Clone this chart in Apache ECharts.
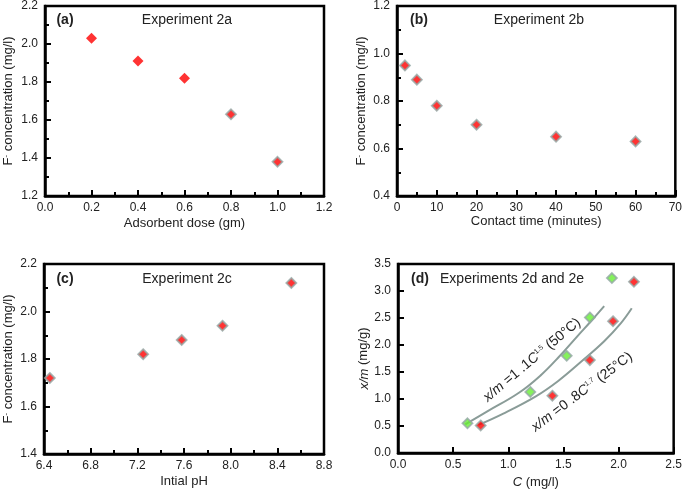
<!DOCTYPE html>
<html>
<head>
<meta charset="utf-8">
<script src="https://cdn.jsdelivr.net/npm/echarts@6/dist/echarts.min.js"></script>
<style>
  html, body { margin: 0; padding: 0; background: #fff; }
  #chart { width: 685px; height: 490px; }
</style>
</head>
<body>
<div id="chart"></div>
<script>
// (a) adsorbent dose
const doseX = [0.2, 0.4, 0.6, 0.8, 1.0];
const doseY = [2.03, 1.91, 1.82, 1.63, 1.38];
// (b) contact time
const timeX = [2, 5, 10, 20, 40, 60];
const timeY = [0.95, 0.89, 0.78, 0.70, 0.65, 0.63];
// (c) initial pH
const phX = [6.45, 7.25, 7.58, 7.93, 8.52];
const phY = [1.72, 1.82, 1.88, 1.94, 2.12];
// (d) isotherms, 50C (green) and 25C (red)
const c50X = [0.63, 1.20, 1.53, 1.74, 1.94];
const c50Y = [0.55, 1.13, 1.80, 2.51, 3.24];
const c25X = [0.75, 1.40, 1.74, 1.95, 2.14];
const c25Y = [0.51, 1.06, 1.72, 2.44, 3.17];
// fitted curves
const fit50X = [0.61, 0.81, 1.10, 1.30, 1.45, 1.63, 1.75, 1.87];
const fit50Y = [0.53, 0.77, 1.12, 1.45, 1.76, 2.17, 2.44, 2.72];
const fit25X = [0.73, 0.955, 1.25, 1.45, 1.66, 1.87, 2.02, 2.12];
const fit25Y = [0.52, 0.73, 1.05, 1.33, 1.69, 2.07, 2.40, 2.68];

const zip = (xs, ys) => xs.map((x, i) => [x, ys[i]]);

const FONT = '"Liberation Sans", Arial, sans-serif';
const TXT = '#222';
const RED = '#ff0000';
const GREEN = '#66ee33';
const HALO = '#93a8a5';
const CURVE = '#8a9c98';

const chart = echarts.init(document.getElementById('chart'));

function xAxis(grid, min, max, interval, name, gap, digits, minor) {
  return {
    type: 'value', gridIndex: grid, min, max, interval,
    name, nameLocation: 'middle', nameGap: gap,
    nameTextStyle: { fontFamily: FONT, fontSize: 13, color: TXT,
      rich: { i: { fontFamily: FONT, fontSize: 13, color: TXT, fontStyle: 'italic' } } },
    axisLine: { show: true, onZero: false, lineStyle: { color: '#000', width: 2.5 } },
    axisTick: { show: true, inside: true, length: 6, lineStyle: { color: '#000', width: 2 } },
    minorTick: { show: minor, splitNumber: 2, length: 4, lineStyle: { color: '#000', width: 2 } },
    axisLabel: { fontFamily: FONT, fontSize: 12, color: TXT, margin: 6,
      formatter: v => v.toFixed(digits) },
    splitLine: { show: false }
  };
}

function yAxis(grid, min, max, interval, name, gap, minor) {
  return {
    type: 'value', gridIndex: grid, min, max, interval,
    name, nameLocation: 'middle', nameGap: gap,
    nameTextStyle: { fontFamily: FONT, fontSize: 13, color: TXT,
      rich: {
        n: { fontFamily: FONT, fontSize: 13, color: TXT },
        s: { fontFamily: FONT, fontSize: 8, color: TXT, verticalAlign: 'top' },
        i: { fontFamily: FONT, fontSize: 13, color: TXT, fontStyle: 'italic' }
      } },
    axisLine: { show: true, onZero: false, lineStyle: { color: '#000', width: 2.5 } },
    axisTick: { show: true, inside: true, length: 6, lineStyle: { color: '#000', width: 2 } },
    minorTick: { show: minor, splitNumber: 2, length: 4, lineStyle: { color: '#000', width: 2 } },
    axisLabel: { fontFamily: FONT, fontSize: 12, color: TXT, margin: 7,
      formatter: v => v.toFixed(1) },
    splitLine: { show: false }
  };
}

function dots(idx, data, color, halo) {
  return {
    type: 'scatter', xAxisIndex: idx, yAxisIndex: idx, data,
    symbol: 'diamond', symbolSize: halo ? 10 : 11,
    itemStyle: { color, borderColor: halo ? HALO : color, borderWidth: halo ? 1.8 : 0 },
    z: 5
  };
}

function curve(idx, data) {
  return {
    type: 'line', xAxisIndex: idx, yAxisIndex: idx, data,
    smooth: 0.4, showSymbol: false, symbol: 'none',
    lineStyle: { color: CURVE, width: 2 }, z: 3
  };
}

const fName = '{n|F}{s|-}{n| concentration (mg/l)}';

function label(x, y, text, bold) {
  return {
    type: 'text', x, y,
    style: { text, fill: TXT, font: (bold ? 'bold ' : '') + '14px ' + FONT,
      align: 'center', verticalAlign: 'middle' }
  };
}

function fitLabel(x, y, deg, text) {
  return {
    type: 'text', x, y, rotation: deg * Math.PI / 180,
    style: {
      text, fill: TXT, font: '14px ' + FONT, align: 'center', verticalAlign: 'middle',
      rich: {
        i: { fontFamily: FONT, fontSize: 14, fontStyle: 'italic', fill: TXT },
        n: { fontFamily: FONT, fontSize: 14, fill: TXT },
        s: { fontFamily: FONT, fontSize: 7, fill: TXT, verticalAlign: 'top' }
      }
    }
  };
}

chart.setOption({
  animation: false,
  grid: [
    { left: 45, top: 6, width: 279, height: 190 },
    { left: 397, top: 5, width: 280, height: 191 },
    { left: 44, top: 264, width: 280, height: 190 },
    { left: 398, top: 264, width: 278, height: 191 }
  ].map(g => Object.assign(g, { show: true, borderColor: '#000', borderWidth: 2.5, containLabel: false })),
  xAxis: [
    xAxis(0, 0, 1.2, 0.2, 'Adsorbent dose (gm)', 21, 1, true),
    xAxis(1, 0, 70, 10, 'Contact time (minutes)', 15, 0, true),
    xAxis(2, 6.4, 8.8, 0.4, 'Intial pH', 21, 1, true),
    xAxis(3, 0, 2.5, 0.5, '{i|C} (mg/l)', 23, 1, false)
  ],
  yAxis: [
    yAxis(0, 1.2, 2.2, 0.2, fName, 30, true),
    yAxis(1, 0.4, 1.2, 0.2, fName, 29, true),
    yAxis(2, 1.4, 2.2, 0.2, fName, 29, true),
    yAxis(3, 0, 3.5, 0.5, '{i|x/m} (mg/g)', 23, false)
  ],
  series: [
    dots(0, zip(doseX, doseY).slice(0, 3), RED, false),
    dots(0, zip(doseX, doseY).slice(3), RED, true),
    dots(1, zip(timeX, timeY), RED, true),
    dots(2, zip(phX, phY), RED, true),
    curve(3, zip(fit50X, fit50Y)),
    curve(3, zip(fit25X, fit25Y)),
    dots(3, zip(c50X, c50Y), GREEN, true),
    dots(3, zip(c25X, c25Y), RED, true)
  ],
  graphic: [
    label(65, 20, '(a)', true), label(187, 20, 'Experiment 2a'),
    label(419, 20, '(b)', true), label(539, 20, 'Experiment 2b'),
    label(65, 279, '(c)', true), label(187, 279, 'Experiment 2c'),
    label(420, 279, '(d)', true), label(512, 279, 'Experiments 2d and 2e'),
    fitLabel(532, 360, 40, '{i|x/m}{n| =1 .1}{i|C}{s|1.5}{n| (50°C)}'),
    fitLabel(582, 392, 37, '{i|x/m}{n| =0 .8}{i|C}{s|1.7}{n| (25°C)}')
  ]
});
</script>
</body>
</html>
